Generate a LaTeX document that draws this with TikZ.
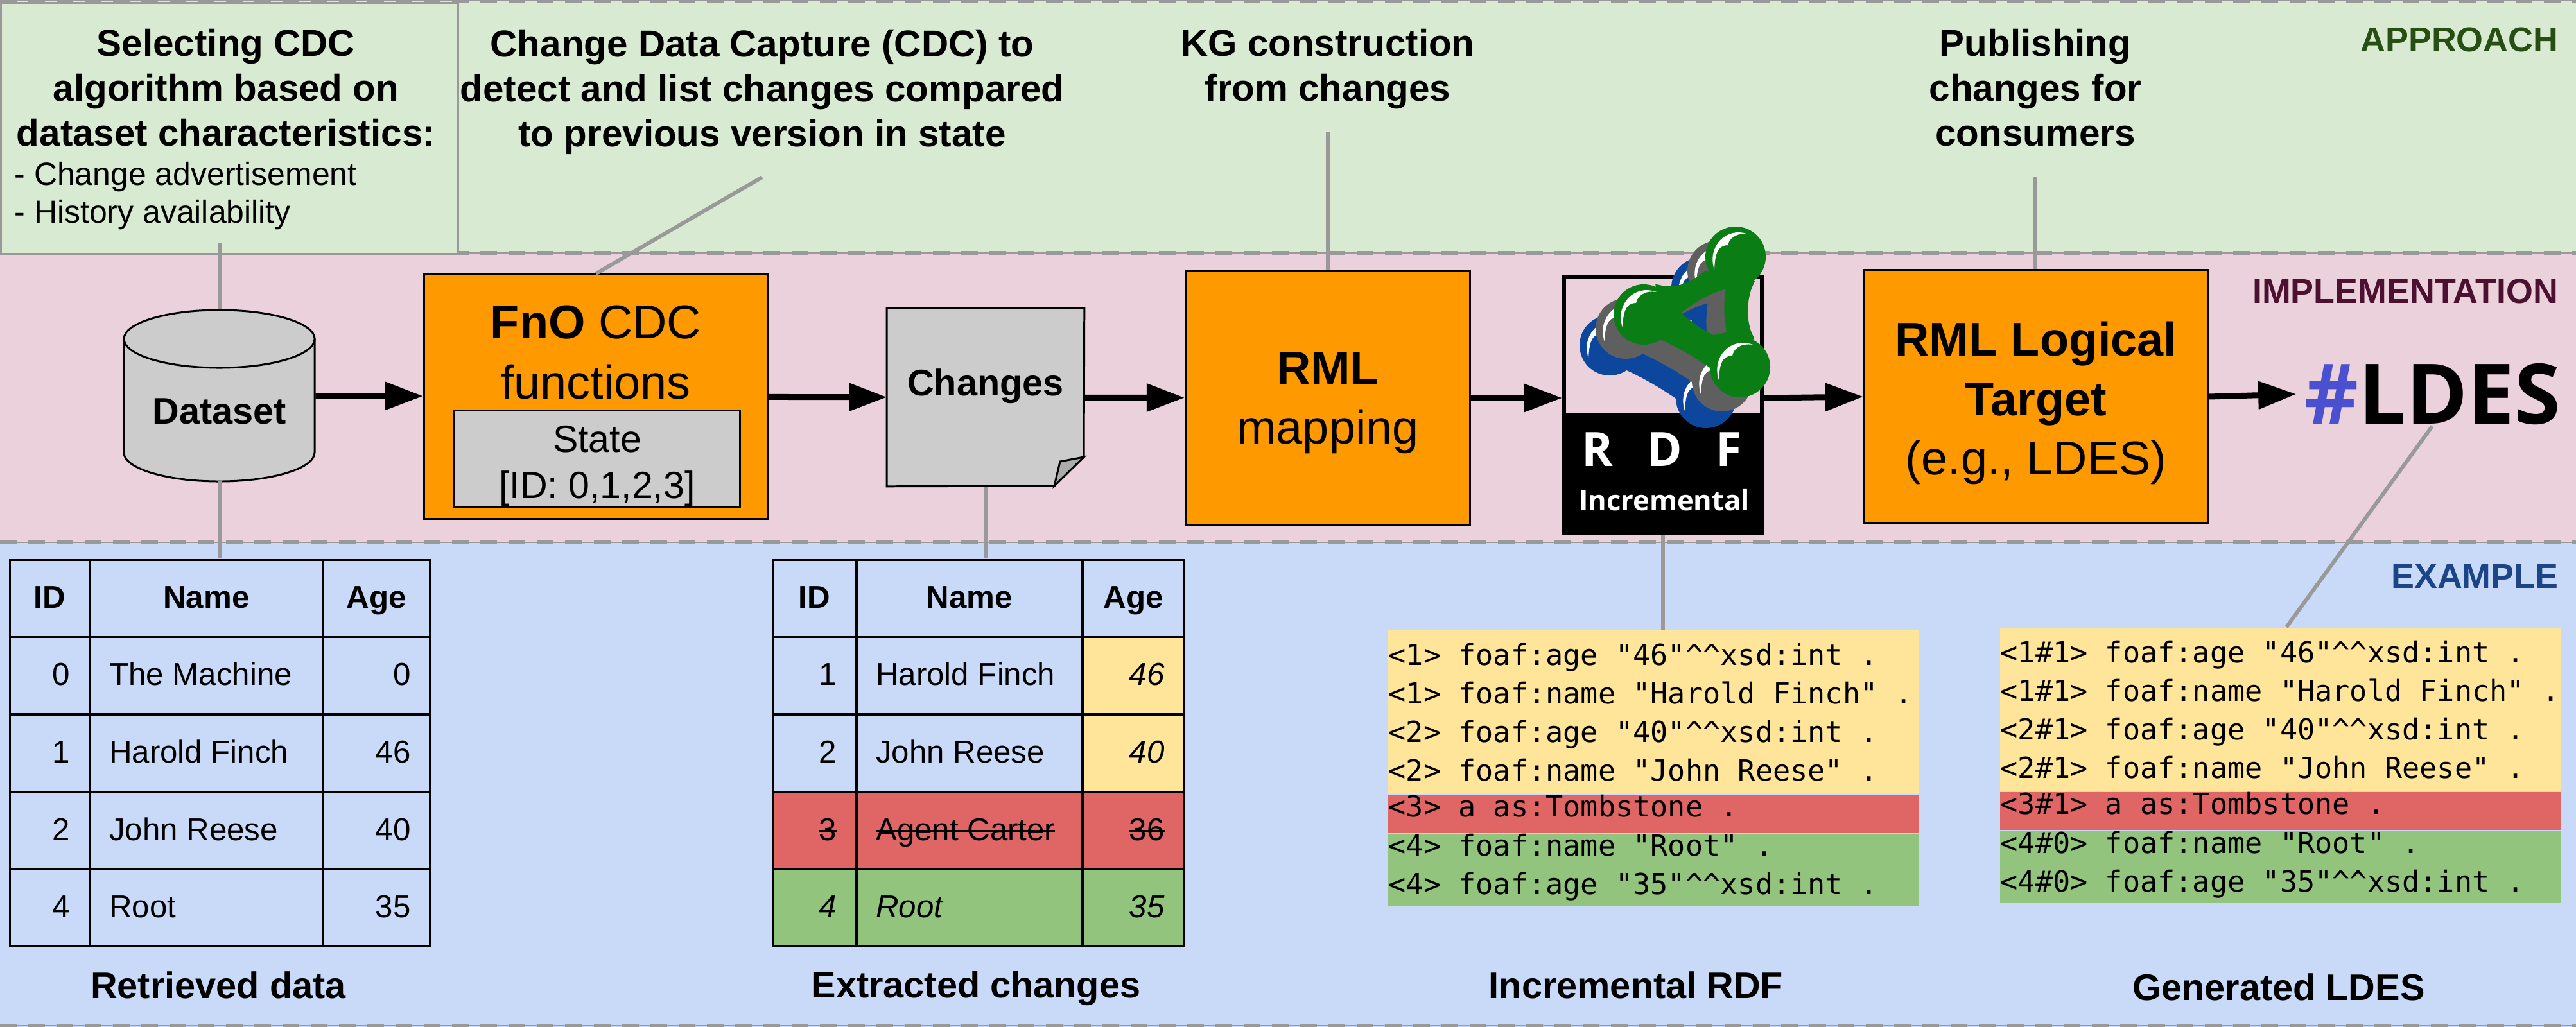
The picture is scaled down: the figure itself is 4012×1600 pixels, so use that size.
\documentclass[tikz,border=0pt]{standalone}
\usepackage{fontspec}
\usepackage{tikz}
\usetikzlibrary{arrows.meta, positioning, matrix}
\setmainfont{Liberation Sans}
\setmonofont{DejaVu Sans Mono}
\newfontfamily\logofont{Open Sans}
\definecolor{bandgreen}{HTML}{D9EAD3}
\definecolor{bandpink}{HTML}{EAD1DC}
\definecolor{bandblue}{HTML}{C9DAF8}
\definecolor{boxorange}{HTML}{FF9900}
\definecolor{boxgrey}{HTML}{CCCCCC}
\definecolor{foldgrey}{HTML}{ABABAB}
\definecolor{leadgrey}{HTML}{999999}
\definecolor{chgyellow}{HTML}{FFE599}
\definecolor{chgred}{HTML}{E06666}
\definecolor{chggreen}{HTML}{93C47D}
\definecolor{tagapproach}{HTML}{274E13}
\definecolor{tagimpl}{HTML}{4C1130}
\definecolor{tagexample}{HTML}{1C4587}
\definecolor{hashblue}{HTML}{4B50D0}
\definecolor{molblue}{HTML}{0C479D}
\definecolor{molgrey}{HTML}{5F5F5F}
\definecolor{molgreen}{HTML}{0A7D15}
\newcommand{\hats}{\textasciicircum\textasciicircum}
\newsavebox{\strikebox}
\newcommand{\strikeit}[1]{\sbox{\strikebox}{#1}\usebox{\strikebox}\llap{\rule[.26em]{\wd\strikebox}{.06em}}}
\tikzset{
  box/.style={draw=black, line width=.85pt, fill=boxorange, inner sep=0pt},
  greybox/.style={box, fill=boxgrey},
  boxtext/.style={align=flush center, inner sep=0pt, font=\fontsize{21}{26.2}\selectfont},
  statetext/.style={align=flush center, inner sep=0pt, font=\fontsize{16.8}{20.2}\selectfont},
  boldtext/.style={inner sep=0pt, font=\fontsize{16.4}{19}\selectfont\bfseries},
  flow/.style={-{Triangle[length=.59cm, width=.42cm]}, line width=2.56pt, draw=black},
  lead/.style={line width=1.7pt, draw=leadgrey},
  headline/.style={align=flush center, inner sep=0pt, font=\fontsize{16.6}{19.9}\selectfont\bfseries},
  tag/.style={anchor=east, inner sep=0pt, font=\fontsize{15.3}{18}\selectfont\bfseries},
  codebox/.style={align=flush left, inner xsep=.01cm, inner ysep=0pt, anchor=north west,
                  font=\fontsize{12.85}{17.07}\selectfont\ttfamily\frenchspacing},
  oneline/.style={text height=.34cm, text depth=.25cm},
  twolines/.style={text height=.35cm, text depth=.77cm},
  headcell/.style={align=flush center, font=\fontsize{14}{16}\selectfont\bfseries},
  changetable/.style n args={3}{matrix of nodes, anchor=north west, inner sep=0pt,
    row sep=-.024cm, column sep=-.02cm,
    nodes={draw=black, line width=.85pt, outer sep=0pt, inner xsep=.3cm, inner ysep=0pt,
           minimum height=1.2cm, text height=.85em, text depth=0em,
           font=\fontsize{14}{16}\selectfont},
    column 1/.style={nodes={text width=#1, align=flush right}},
    column 2/.style={nodes={text width=#2, align=flush left}},
    column 3/.style={nodes={text width=#3, align=flush right}}},
  pics/molecule/.style={code={
    \filldraw[#1, line width=2.4pt, even odd rule] (23,-42) .. controls (50,-35) and (75,-45) .. (97,-64)
      -- (167,-49) .. controls (155,-25) and (155,15) .. (167,36)
      -- (112,84) .. controls (85,65) and (60,50) .. (30,36) -- cycle
      (52,-3) .. controls (75,-22) and (105,-40) .. (133,-45)
      .. controls (127,-15) and (130,12) .. (134,30)
      .. controls (126,33) and (116,36) .. (106,36)
      .. controls (90,27) and (68,14) .. (52,-3) -- cycle;
    \foreach \bx/\by in {0/0, 143/-90, 150/82} {
      \begin{scope}[shift={(\bx,\by)}]
        \fill[#1] (0,0) circle[radius=47];
        \fill[white] (-33,20) .. controls (-45,-15) and (-15,-48) .. (20,-35)
          .. controls (0,-38) and (-10,-28) .. (-12,-18)
          .. controls (-30,-18) and (-32,0) .. (-33,20) -- cycle;
      \end{scope}
    }
  }},
}
\begin{document}
\begin{tikzpicture}[x=.01cm, y=-.01cm]
  \useasboundingbox (0,0) rectangle (4012,1600);
  % bands
  \fill[bandgreen] (0,0) rectangle (4012,394);
  \fill[bandpink] (0,394) rectangle (4012,845);
  \fill[bandblue] (0,845) rectangle (4012,1600);
  \foreach \ypos in {1,394,845,1598} {
    \draw[leadgrey, line width=.4pt] (0,\ypos) -- (4012,\ypos);
    \draw[leadgrey, line width=1.7pt, dash pattern=on .26cm off .18cm] (0,\ypos) -- (4012,\ypos);
  }
  \node[tag, text=tagapproach] (approach) at (3985,62) {APPROACH};
  \node[tag, text=tagimpl] (impl) at (3985,454) {IMPLEMENTATION};
  \node[tag, text=tagexample] (example) at (3985,898) {EXAMPLE};

  % approach row
  \node[draw=leadgrey, line width=.85pt, fill=bandgreen, minimum width=7.12cm, minimum height=3.91cm,
        anchor=north west, inner sep=0pt] (selectbox) at (0,3) {};
  \node[headline] (selecting) at (352,137) {Selecting CDC\\ algorithm based on\\ dataset characteristics:};
  \node[anchor=north west, align=flush left, inner sep=0pt, font=\fontsize{14.2}{16.8}\selectfont]
    (criteria) at (22,252) {- Change advertisement\\ - History availability};
  \node[headline] (capture) at (1187,143) {Change Data Capture (CDC) to\\ detect and list changes compared\\ to previous version in state};
  \node[headline] (construct) at (2068,108) {KG construction\\ from changes};
  \node[headline] (publish) at (3170,137) {Publishing\\ changes for\\ consumers};
  \coordinate (selectfoot) at (342,378);
  \coordinate (capturefoot) at (1187,276);
  \coordinate (constructfoot) at (2068,205);
  \coordinate (publishfoot) at (3170,276);
  \coordinate (ldesfoot) at (3788,664);
  \coordinate (ntfoot) at (3561,977);

  % implementation row
  \node[minimum width=2.97cm, minimum height=2.67cm, inner sep=0pt] (dataset) at (342,616) {};
  \draw[line width=.85pt, fill=boxgrey] (193,528) arc[start angle=180, end angle=0, x radius=1.485cm, y radius=.45cm]
    -- (490,705) arc[start angle=0, end angle=-180, x radius=1.485cm, y radius=.45cm] -- cycle;
  \draw[line width=.85pt] (193,528) arc[start angle=180, end angle=360, x radius=1.485cm, y radius=.45cm];
  \node[boldtext] (datasetlabel) at (342,641) {Dataset};
  \node[box, minimum width=5.35cm, minimum height=3.8cm] (fno) at (928,618) {};
  \node[boxtext] (fnolabel) at (928,502) {\textbf{FnO} CDC};
  \node[boxtext] (fnolabeltwo) at (928,595) {functions};
  \node[greybox, minimum width=4.44cm, minimum height=1.5cm] (state) at (930,715) {};
  \node[statetext] (statelabel) at (930,726) {State\\ {[ID: 0,1,2,3]}};
  \node[minimum width=3.06cm, minimum height=2.76cm, inner sep=0pt] (changes) at (1535,619) {};
  \draw[line width=.85pt, fill=boxgrey] (changes.north west) -- (changes.north east) -- (1688,712)
    -- (1642,757) -- (changes.south west) -- cycle;
  \draw[line width=.85pt, fill=foldgrey] (1688,712) -- (1651,719) -- (1642,757) -- cycle;
  \node[boldtext] (changeslabel) at (1535,602) {Changes};
  \node[box, minimum width=4.43cm, minimum height=3.97cm] (rml) at (2068,620) {};
  \node[boxtext] (rmllabel) at (2068,628) {\textbf{RML}\\ mapping};
  \node[draw=black, line width=1.7pt, minimum width=3.08cm, minimum height=2.16cm, inner sep=0pt] (rdfbox) at (2590,539) {};
  \node[fill=black, minimum width=3.14cm, minimum height=1.83cm, inner sep=0pt, below=-.01cm of rdfbox] (rdfbar) {};
  \pic at (2507,538) {molecule=molblue};
  \pic at (2532,512) {molecule=molgrey};
  \pic at (2560,490) {molecule=molgreen};
  \foreach \lettername/\letterx/\lettertext in {rdfr/2488/R, rdfd/2593/D, rdff/2693/F} {
    \node[inner sep=0pt, text=white, font=\fontsize{21}{25}\selectfont\logofont\bfseries] (\lettername) at (\letterx,700) {\lettertext};
  }
  \node[inner sep=0pt, text=white, font=\fontsize{12.4}{15}\selectfont\logofont\bfseries] (rdfinc) at (2592,779) {Incremental};
  \node[box, minimum width=5.35cm, minimum height=3.94cm] (target) at (3171,618) {};
  \node[boxtext] (targetlabel) at (3171,628) {\textbf{RML Logical}\\ \textbf{Target}\\ (e.g., LDES)};
  \node[inner xsep=.13cm, inner ysep=0pt, font=\fontsize{37}{41}\selectfont\logofont\bfseries] (ldes) at (3789,614) {\textcolor{hashblue}{\#}LDES};

  \draw[flow] (dataset) -- (fno);
  \draw[flow] (fno) -- (changes);
  \draw[flow] (changes) -- (rml);
  \draw[flow] (rml.east) -- (rml.east -| rdfbox.west);
  \draw[flow] (rml.east -| rdfbox.east) -- (target.west);
  \draw[flow] (target.east) -- (ldes.west);

  % example row
  \matrix[changetable={.64cm}{3.02cm}{1.06cm}] (retrieved) at (13,870) {
    |[headcell]| ID & |[headcell]| Name & |[headcell]| Age \\
    0 & The Machine & 0 \\
    1 & Harold Finch & 46 \\
    2 & John Reese & 40 \\
    4 & Root & 35 \\
  };
  \matrix[changetable={.7cm}{2.91cm}{.97cm}] (extracted) at (1201,870) {
    |[headcell]| ID & |[headcell]| Name & |[headcell]| Age \\
    1 & Harold Finch & |[fill=chgyellow]| \itshape 46 \\
    2 & John Reese & |[fill=chgyellow]| \itshape 40 \\
    |[fill=chgred]| \strikeit{3} & |[fill=chgred]| \strikeit{Agent Carter} & |[fill=chgred]| \strikeit{36} \\
    |[fill=chggreen]| \itshape 4 & |[fill=chggreen]| \itshape Root & |[fill=chggreen]| \itshape 35 \\
  };
  \node[codebox, fill=chgyellow, text width=8.24cm, minimum height=2.55cm] (rdfadds) at (2161,981)
    {<1> foaf:age "46"\hats xsd:int .\\ <1> foaf:name "Harold Finch" .\\ <2> foaf:age "40"\hats xsd:int .\\ <2> foaf:name "John Reese" .};
  \node[codebox, oneline, fill=chgred, text width=8.24cm, below=0pt of rdfadds] (rdfdel) {<3> a as:Tombstone .};
  \node[codebox, twolines, fill=chggreen, text width=8.24cm, below=0pt of rdfdel] (rdfnew)
    {<4> foaf:name "Root" .\\ <4> foaf:age "35"\hats xsd:int .};
  \node[codebox, fill=chgyellow, text width=8.72cm, minimum height=2.55cm] (ldesadds) at (3114,977)
    {<1\#1> foaf:age "46"\hats xsd:int .\\ <1\#1> foaf:name "Harold Finch" .\\ <2\#1> foaf:age "40"\hats xsd:int .\\ <2\#1> foaf:name "John Reese" .};
  \node[codebox, oneline, fill=chgred, text width=8.72cm, below=0pt of ldesadds] (ldesdel) {<3\#1> a as:Tombstone .};
  \node[codebox, twolines, fill=chggreen, text width=8.72cm, below=0pt of ldesdel] (ldesnew)
    {<4\#0> foaf:name "Root" .\\ <4\#0> foaf:age "35"\hats xsd:int .};
  \node[boldtext] (retrievedcap) at (340,1535) {Retrieved data};
  \node[boldtext] (extractedcap) at (1520,1540) {Extracted changes};
  \node[boldtext] (rdfcap) at (2548,1535) {Incremental RDF};
  \node[boldtext] (ldescap) at (3549,1538) {Generated LDES};

  % leads
  \draw[lead] (selectfoot) -- (dataset.north);
  \draw[lead] (capturefoot) -- (fno.north);
  \draw[lead] (constructfoot) -- (rml.north);
  \draw[lead] (publishfoot) -- (publishfoot |- target.north);
  \draw[lead] (dataset.south) -- (dataset.south |- retrieved.north);
  \draw[lead] (changes.south) -- (changes.south |- extracted.north);
  \draw[lead] (rdfbar.south) -- (rdfbar.south |- rdfadds.north);
  \draw[lead] (ldesfoot) -- (ntfoot);
\end{tikzpicture}
\end{document}
